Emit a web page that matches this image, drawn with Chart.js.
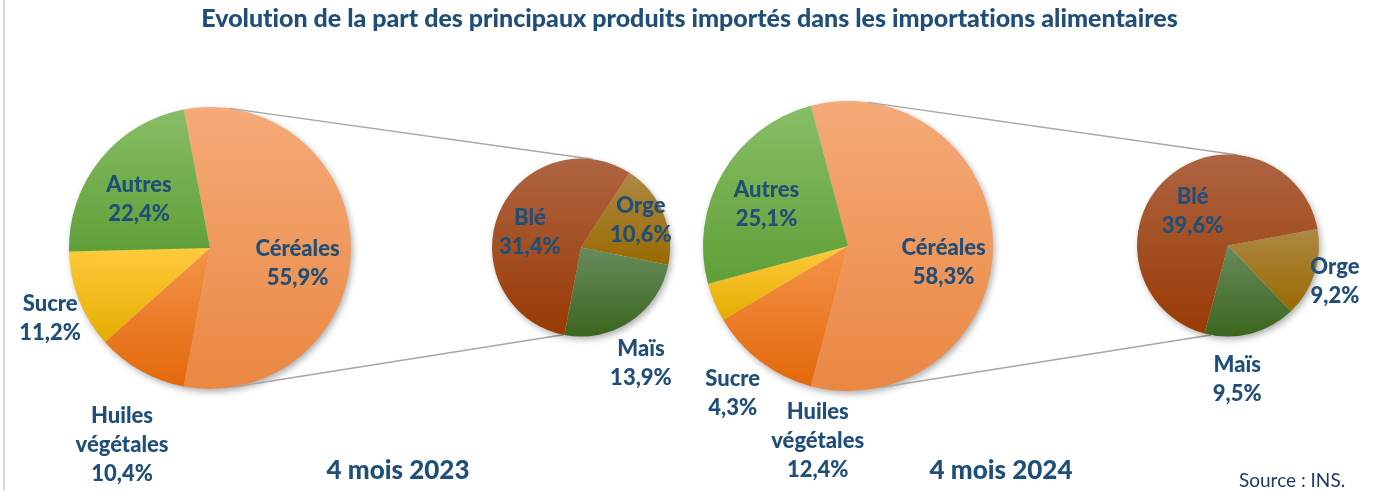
<!DOCTYPE html>
<html lang="fr">
<head>
<meta charset="utf-8">
<script src="https://cdn.jsdelivr.net/npm/chart.js@4.4.1/dist/chart.umd.min.js"></script>
<style>
  body { margin: 0; background: #fff; }
  #wrap { position: relative; width: 1379px; height: 491px; overflow: hidden; font-family: Lato, sans-serif; background: #fff; font-variant-ligatures: none; }
  #wrap canvas { position: absolute; left: 0; top: 0; }
  .txt { position: absolute; color: #1F4E79; font-weight: 900; white-space: nowrap; line-height: 1; }
  #title { left: 0; width: 1379px; top: 5px; text-align: center; font-size: 25px; }
  .period { top: 456px; font-size: 26px; transform: translateX(-50%); }
  #source { left: 1239px; top: 470px; font-size: 19px; font-weight: 400; color: #203864; }
  #frame { position: absolute; left: 3px; top: 0; width: 2px; height: 491px; background: #DADADA; }
</style>
</head>
<body>
<div id="wrap">
  <div id="frame"></div>
  <canvas id="main2023" width="1379" height="491"></canvas>
  <canvas id="cer2023" width="1379" height="491"></canvas>
  <canvas id="main2024" width="1379" height="491"></canvas>
  <canvas id="cer2024" width="1379" height="491"></canvas>
  <div id="title" class="txt"></div>
  <div id="p2023" class="txt period" style="left:398px"></div>
  <div id="p2024" class="txt period" style="left:1001px"></div>
  <div id="source" class="txt">Source : INS.</div>
</div>
<script>
// data (% of food imports)
const titleText = 'Evolution de la part des principaux produits importés dans les importations alimentaires';
const periods = ['4 mois 2023', '4 mois 2024'];

const mainLabels = ['Céréales', 'Huiles végétales', 'Sucre', 'Autres'];
const main2023 = [55.9, 10.4, 11.2, 22.4];
const main2024 = [58.3, 12.4, 4.3, 25.1];

const cerealLabels = ['Orge', 'Maïs', 'Blé'];
const cereal2023 = [10.6, 13.9, 31.4];
const cereal2024 = [9.2, 9.5, 39.6];

document.getElementById('title').textContent = titleText;
document.getElementById('p2023').textContent = periods[0];
document.getElementById('p2024').textContent = periods[1];

const W = 1379, H = 491;
const RAD = Math.PI / 180;

// gradient colours, top -> bottom of each slice
const mainColors = [
  ['#F5AA78', '#EA8742'],
  ['#F4934A', '#E3680A'],
  ['#FFCB3C', '#E5AC00'],
  ['#88BE66', '#5F9F37'],
];
const cerealColors = [
  ['#AE8844', '#996A00'],
  ['#668C5C', '#3B661E'],
  ['#AE6442', '#993A04'],
];

function pad(cx, cy, r) {
  return { left: cx - r, top: cy - r, right: W - cx - r, bottom: H - cy - r };
}

function sum(arr) {
  return arr.reduce((a, b) => a + b, 0);
}

function sliceFill(pairs, rotation) {
  return function (ctx) {
    const pair = pairs[ctx.dataIndex];
    const chart = ctx.chart, area = chart.chartArea;
    if (!area) return pair[1];
    const data = ctx.dataset.data;
    const total = sum(data);
    const cy = (area.top + area.bottom) / 2;
    const r = Math.min(area.right - area.left, area.bottom - area.top) / 2;
    let a0 = rotation;
    for (let i = 0; i < ctx.dataIndex; i++) a0 += data[i] / total * 360;
    const a1 = a0 + data[ctx.dataIndex] / total * 360;
    const ys = [cy, cy - r * Math.cos(a0 * RAD), cy - r * Math.cos(a1 * RAD)];
    for (let k = -360; k <= 720; k += 180) {
      if (k > a0 && k < a1) ys.push(k % 360 === 0 ? cy - r : cy + r);
    }
    const g = chart.ctx.createLinearGradient(0, Math.min(...ys), 0, Math.max(...ys));
    g.addColorStop(0, pair[0]);
    g.addColorStop(1, pair[1]);
    return g;
  };
}

function fmt(v) {
  return v.toFixed(1).replace('.', ',') + '%';
}

const pieShadow = {
  id: 'pieShadow',
  beforeDatasetsDraw(chart) {
    const arc = chart.getDatasetMeta(0).data[0];
    const c = chart.ctx;
    c.save();
    c.beginPath();
    c.arc(arc.x, arc.y, arc.outerRadius - 0.5, 0, Math.PI * 2);
    c.shadowColor = 'rgba(0,0,0,0.35)';
    c.shadowBlur = 7;
    c.shadowOffsetX = 2;
    c.shadowOffsetY = 3;
    c.fillStyle = '#d0d0d0';
    c.fill();
    c.restore();
  }
};

// lines joining the cereals slice to the breakdown pie
const connector = {
  id: 'connector',
  beforeDatasetsDraw(chart, args, opts) {
    if (!opts.from) return;
    const a = opts.from.getDatasetMeta(0).data[0];
    const b = chart.getDatasetMeta(0).data[0];
    const c = chart.ctx;
    c.save();
    c.strokeStyle = '#A6A6A6';
    c.lineWidth = 1.5;
    for (let i = 0; i < 2; i++) {
      const t1 = (opts.fromAngles[i] - 90) * RAD, t2 = (opts.toAngles[i] - 90) * RAD;
      c.beginPath();
      c.moveTo(a.x + a.outerRadius * Math.cos(t1), a.y + a.outerRadius * Math.sin(t1));
      c.lineTo(b.x + b.outerRadius * Math.cos(t2), b.y + b.outerRadius * Math.sin(t2));
      c.stroke();
    }
    c.restore();
  }
};

const sliceLabels = {
  id: 'sliceLabels',
  afterDatasetsDraw(chart, args, opts) {
    const c = chart.ctx;
    const ds = chart.data.datasets[0];
    c.save();
    c.font = '900 22px Lato, sans-serif';
    c.fillStyle = '#1F4E79';
    c.textAlign = 'center';
    c.textBaseline = 'middle';
    chart.getDatasetMeta(0).data.forEach((arc, i) => {
      const p = opts.pos[i];
      const t = (arc.startAngle + arc.endAngle) / 2 + p[1] * RAD;
      const r = arc.outerRadius * p[0];
      const x = arc.x + r * Math.cos(t), y = arc.y + r * Math.sin(t);
      const lines = chart.data.labels[i].split(' ').concat(fmt(ds.data[i]));
      const lh = 29;
      lines.forEach((ln, k) => {
        c.fillText(ln, x, y + (k - (lines.length - 1) / 2) * lh);
      });
    });
    c.restore();
  }
};

function makePie(id, labels, values, colors, rotation, place, pos, link) {
  return new Chart(document.getElementById(id), {
    type: 'pie',
    data: {
      labels: labels,
      datasets: [{
        data: values,
        backgroundColor: sliceFill(colors, rotation),
        borderWidth: 0,
      }],
    },
    options: {
      responsive: false,
      animation: false,
      events: [],
      rotation: rotation,
      layout: { padding: pad(place[0], place[1], place[2]) },
      plugins: {
        legend: { display: false },
        tooltip: { enabled: false },
        sliceLabels: { pos: pos },
        connector: link || {},
      },
    },
    plugins: [connector, pieShadow, sliceLabels],
  });
}

// main pies: cereals slice centred on the right
const rot2023 = 90 - main2023[0] / sum(main2023) * 180;
const rot2024 = 90 - main2024[0] / sum(main2024) * 180;

const chartMain2023 = makePie('main2023', mainLabels, main2023, mainColors, rot2023,
  [210, 248, 141],
  [[0.63, 9.8], [1.53, -5.4], [1.24, -2.3], [0.61, -4.5]]);

const chartCer2023 = makePie('cer2023', cerealLabels, cereal2023, cerealColors, 33,
  [581, 247.5, 89],
  [[0.74, -1.8], [1.47, 6.7], [0.6, -5.1]],
  { from: chartMain2023, fromAngles: [8, 170.5], toAngles: [7.6, 191.4] });

const chartMain2024 = makePie('main2024', mainLabels, main2024, mainColors, rot2024,
  [848, 246, 145],
  [[0.67, 10], [1.36, -28.3], [1.29, -29.1], [0.63, -3.2]]);

const chartCer2024 = makePie('cer2024', cerealLabels, cereal2024, cerealColors, 79.5,
  [1228, 245.5, 91],
  [[1.24, 0.7], [1.47, 10.4], [0.54, -3.3]],
  { from: chartMain2024, fromAngles: [7.9, 166.8], toAngles: [6.2, 190.8] });
</script>
</body>
</html>
